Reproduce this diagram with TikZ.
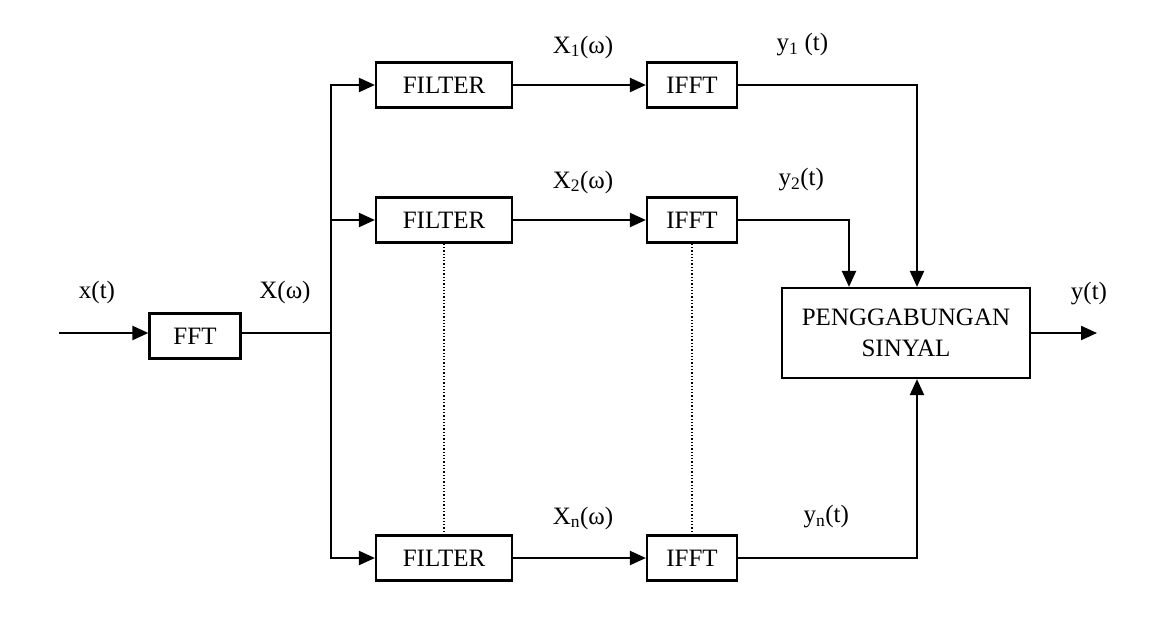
\documentclass[tikz,border=0pt]{standalone}
\usepackage{fontspec}
\setmainfont{Liberation Serif}
\usetikzlibrary{arrows.meta}
\tikzset{blok/.style={draw,line width=2.2pt,minimum height=45pt,inner sep=0pt},
         sinyal/.style={line width=2.2pt,-{Triangle[length=16pt,width=14pt]}},
         garis/.style={line width=2.2pt},
         titik/.style={dotted,line width=1.3pt}}

\begin{document}
\begin{tikzpicture}[x=1pt,y=-1pt,font=\fontsize{25}{31}\selectfont] % y 轴向下, 按像素坐标
    \useasboundingbox (0,0) rectangle (1163,622);
    % 方框
    \node[blok,minimum width=91pt] (fft) at (195,336) {FFT};
    \node[blok,minimum width=136pt] (f1) at (444,85) {FILTER};
    \node[blok,minimum width=136pt] (f2) at (444,220) {FILTER};
    \node[blok,minimum width=136pt] (f3) at (444,558) {FILTER};
    \node[blok,minimum width=90pt] (i1) at (692,85) {IFFT};
    \node[blok,minimum width=90pt] (i2) at (692,220) {IFFT};
    \node[blok,minimum width=90pt] (i3) at (692,558) {IFFT};
    \node[blok,minimum width=248pt,minimum height=90pt,align=center] (gab) at (906,333) {PENGGABUNGAN\\SINYAL};
    % 标注
    \node (lx) at (97,292) {x(t)};
    \node (lX) at (285,292) {X(ω)};
    \node (lX1) at (583,47) {X\textsubscript{1}(ω)};
    \node (lX2) at (583,182) {X\textsubscript{2}(ω)};
    \node (lXn) at (583,518) {X\textsubscript{n}(ω)};
    \node[anchor=west] (ly1) at (773,45) {y\textsubscript{1} (t)};
    \node[anchor=west] (ly2) at (775,180) {y\textsubscript{2}(t)};
    \node[anchor=west] (lyn) at (800,517) {y\textsubscript{n}(t)};
    \node (ly) at (1089,294) {y(t)};
    \coordinate (inp) at (59,333);
    \coordinate (cab) at (331,333);
    \coordinate (out) at (1097,333);
    % 连线
    \draw[sinyal] (inp) -- (inp -| fft.west);
    \draw[garis] (cab -| fft.east) -- (cab);
    \draw[sinyal] (cab) |- (f1);
    \draw[sinyal] (cab) |- (f2);
    \draw[sinyal] (cab) |- (f3);
    \draw[sinyal] (f1) -- (i1);
    \draw[sinyal] (f2) -- (i2);
    \draw[sinyal] (f3) -- (i3);
    \draw[sinyal] (i1.east) -| ([xshift=11pt]gab.north);
    \draw[sinyal] (i2.east) -| ([xshift=-57pt]gab.north);
    \draw[sinyal] (i3.east) -| ([xshift=11pt]gab.south);
    \draw[sinyal] (out -| gab.east) -- (out);
    \draw[titik] (f2.south) -- (f3.north);
    \draw[titik] (i2.south) -- (i3.north);
\end{tikzpicture}
\end{document}
